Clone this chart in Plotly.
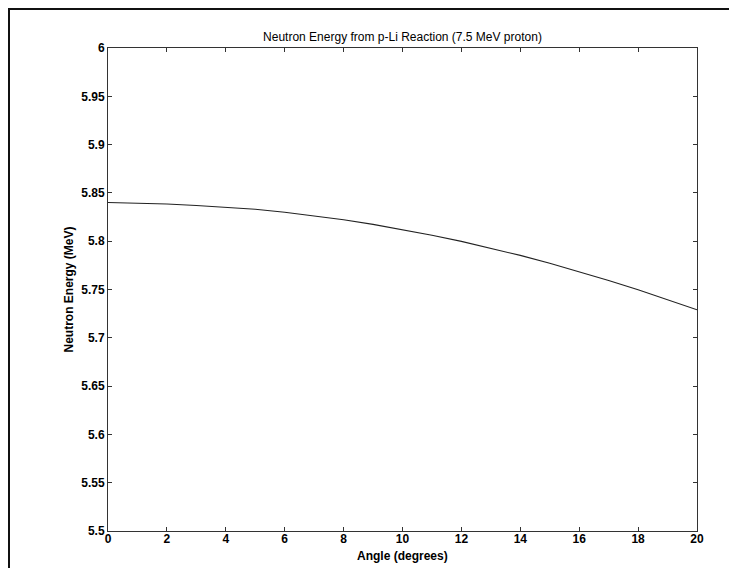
import plotly.graph_objects as go

angle_deg = [0, 1, 2, 3, 4, 5, 6, 7, 8, 9, 10, 11, 12, 13, 14, 15, 16, 17, 18, 19, 20]
neutron_energy = [5.840, 5.8395, 5.8385, 5.8370, 5.8352, 5.8330, 5.8300, 5.8263, 5.8222,
                  5.8174, 5.8120, 5.8062, 5.7998, 5.7928, 5.7853, 5.7772, 5.7686, 5.7594,
                  5.7497, 5.7395, 5.7290]
x_ticks = [0, 2, 4, 6, 8, 10, 12, 14, 16, 18, 20]
y_ticks = [5.5, 5.55, 5.6, 5.65, 5.7, 5.75, 5.8, 5.85, 5.9, 5.95, 6]
y_tick_text = ["5.5", "5.55", "5.6", "5.65", "5.7", "5.75", "5.8", "5.85", "5.9", "5.95", "6"]

W, H = 737, 568
L, R, T, B = 100, 689, 40, 523

FONT = "Liberation Sans, Arial, sans-serif"

fig = go.Figure()
fig.add_trace(go.Scatter(x=angle_deg, y=neutron_energy, mode="lines",
                         line=dict(color="#222222", width=1.1), showlegend=False))

axis_common = dict(showline=True, linecolor="#333333", linewidth=1, mirror="ticks",
                   ticks="inside", ticklen=4, tickcolor="#333333", showgrid=False,
                   zeroline=False,
                   tickfont=dict(family=FONT, size=12, color="black", weight="bold"))

fig.update_layout(
    width=W, height=H,
    margin=dict(l=L, r=W - R, t=T, b=H - B),
    paper_bgcolor="white", plot_bgcolor="white",
    title=dict(text="Neutron Energy from p-Li Reaction (7.5 MeV proton)",
               x=(L + R) / 2 / W, xanchor="center", y=1 - 29 / H, yanchor="middle",
               font=dict(family=FONT, size=12, color="black")),
    xaxis=dict(range=[0, 20], tickvals=x_ticks, ticktext=[str(v) for v in x_ticks],
               ticklabelstandoff=-3, **axis_common),
    yaxis=dict(range=[5.5, 6], tickvals=y_ticks, ticktext=y_tick_text,
               **axis_common),
)

def px_to_paper_x(px):
    return (px - L) / (R - L)

def px_to_paper_y(py):
    return (B - py) / (B - T)

# axis titles
fig.add_annotation(text="Angle (degrees)", xref="paper", yref="paper",
                   x=0.5, y=px_to_paper_y(548), xanchor="center", yanchor="middle",
                   showarrow=False, font=dict(family=FONT, size=12, color="black", weight="bold"))
fig.add_annotation(text="Neutron Energy (MeV)", xref="paper", yref="paper",
                   x=px_to_paper_x(60), y=0.5, xanchor="center", yanchor="middle", textangle=-90,
                   showarrow=False, font=dict(family=FONT, size=12, color="black", weight="bold"))

# outer frame around the figure
fig.add_shape(type="rect", xref="paper", yref="paper",
              x0=px_to_paper_x(1), x1=px_to_paper_x(732),
              y0=px_to_paper_y(566), y1=px_to_paper_y(1),
              line=dict(color="#111111", width=2), fillcolor="rgba(0,0,0,0)", layer="below")

fig.write_html("out.html")
